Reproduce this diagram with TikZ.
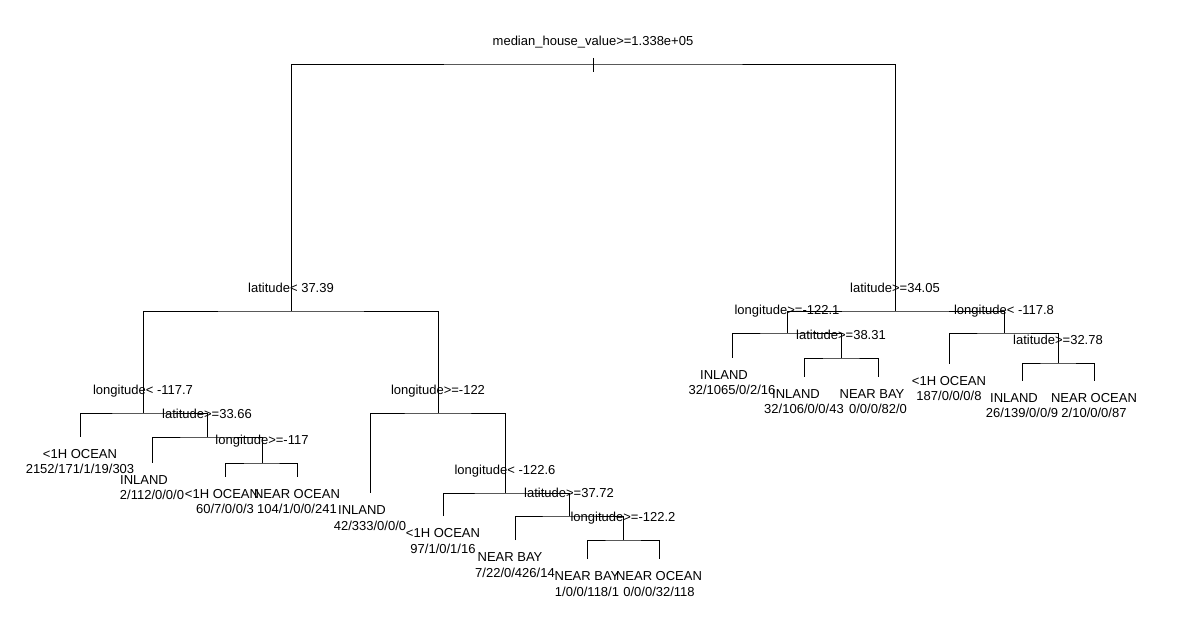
\documentclass[tikz,border=0pt]{standalone}
\usepackage{fontspec}
\setmainfont{Liberation Sans}
\begin{document}
\begin{tikzpicture}[x=1pt,y=-1pt,line width=0.9pt,
    every node/.style={inner sep=0pt,font=\fontsize{13}{15}\selectfont},
    split/.style={anchor=base,yshift=18.5pt},
    cls/.style={anchor=base,yshift=-21.5pt},
    cnt/.style={anchor=base,yshift=-37pt}]
    \useasboundingbox[fill=white] (0,0) rectangle (1192,617);

    % split points
    \coordinate (root) at (593,64);
    \coordinate (A) at (291,311);   \coordinate (B) at (895,311);
    \coordinate (C) at (143,413);   \coordinate (D) at (207,437);
    \coordinate (E) at (262,463);   \coordinate (F) at (438,413);
    \coordinate (G) at (505,493);   \coordinate (H) at (569,516);
    \coordinate (I) at (623,540);   \coordinate (J) at (787,333);
    \coordinate (K) at (841,358);   \coordinate (L) at (1004,333);
    \coordinate (M) at (1058,363);

    % leaves
    \coordinate (l1) at (80,437);    \coordinate (l2) at (152,463);
    \coordinate (l3) at (225,477);   \coordinate (l4) at (297,477);
    \coordinate (l5) at (370,493);   \coordinate (l6) at (443,516);
    \coordinate (l7) at (515,540);   \coordinate (l8) at (587,559);
    \coordinate (l9) at (659,559);   \coordinate (l10) at (732,358);
    \coordinate (l11) at (804,377);  \coordinate (l12) at (878,377);
    \coordinate (l13) at (949,364);  \coordinate (l14) at (1022,381);
    \coordinate (l15) at (1094,381);

    % branches
    \draw (A) |- (root) -| (B);
    \draw ([yshift=6pt]root) -- ([yshift=-8pt]root);
    \draw (C) |- (A) -| (F);
    \draw (l1) |- (C) -| (D);
    \draw (l2) |- (D) -| (E);
    \draw (l3) |- (E) -| (l4);
    \draw (l5) |- (F) -| (G);
    \draw (l6) |- (G) -| (H);
    \draw (l7) |- (H) -| (I);
    \draw (l8) |- (I) -| (l9);
    \draw (J) |- (B) -| (L);
    \draw (l10) |- (J) -| (K);
    \draw (l11) |- (K) -| (l12);
    \draw (l13) |- (L) -| (M);
    \draw (l14) |- (M) -| (l15);

    % split labels
    \node[split] (troot) at (root) {median\_house\_value>=1.338e+05};
    \node[split] (tA) at (A) {latitude< 37.39};
    \node[split] (tB) at (B) {latitude>=34.05};
    \node[split] (tC) at (C) {longitude< -117.7};
    \node[split] (tD) at (D) {latitude>=33.66};
    \node[split] (tE) at (E) {longitude>=-117};
    \node[split] (tF) at (F) {longitude>=-122};
    \node[split] (tG) at (G) {longitude< -122.6};
    \node[split] (tH) at (H) {latitude>=37.72};
    \node[split] (tI) at (I) {longitude>=-122.2};
    \node[split] (tJ) at (J) {longitude>=-122.1};
    \node[split] (tK) at (K) {latitude>=38.31};
    \node[split] (tL) at (L) {longitude< -117.8};
    \node[split] (tM) at (M) {latitude>=32.78};

    % leaf labels
    \node[cls] (k1) at (l1) {<1H OCEAN};            \node[cnt] (n1) at (l1) {2152/171/1/19/303};
    \node[cls,xshift=-8pt] (k2) at (l2) {INLAND};   \node[cnt] (n2) at (l2) {2/112/0/0/0};
    \node[cls,xshift=-3pt] (k3) at (l3) {<1H OCEAN};\node[cnt] (n3) at (l3) {60/7/0/0/3};
    \node[cls] (k4) at (l4) {NEAR OCEAN};           \node[cnt] (n4) at (l4) {104/1/0/0/241};
    \node[cls,xshift=-8pt] (k5) at (l5) {INLAND};   \node[cnt] (n5) at (l5) {42/333/0/0/0};
    \node[cls] (k6) at (l6) {<1H OCEAN};            \node[cnt] (n6) at (l6) {97/1/0/1/16};
    \node[cls,xshift=-5pt] (k7) at (l7) {NEAR BAY}; \node[cnt] (n7) at (l7) {7/22/0/426/14};
    \node[cls] (k8) at (l8) {NEAR BAY};             \node[cnt] (n8) at (l8) {1/0/0/118/1};
    \node[cls] (k9) at (l9) {NEAR OCEAN};           \node[cnt] (n9) at (l9) {0/0/0/32/118};
    \node[cls,xshift=-8pt] (k10) at (l10) {INLAND}; \node[cnt] (n10) at (l10) {32/1065/0/2/16};
    \node[cls,xshift=-8pt] (k11) at (l11) {INLAND}; \node[cnt] (n11) at (l11) {32/106/0/0/43};
    \node[cls,xshift=-6pt] (k12) at (l12) {NEAR BAY};\node[cnt] (n12) at (l12) {0/0/0/82/0};
    \node[cls] (k13) at (l13) {<1H OCEAN};          \node[cnt] (n13) at (l13) {187/0/0/0/8};
    \node[cls,xshift=-8pt] (k14) at (l14) {INLAND}; \node[cnt] (n14) at (l14) {26/139/0/0/9};
    \node[cls] (k15) at (l15) {NEAR OCEAN};         \node[cnt] (n15) at (l15) {2/10/0/0/87};
\end{tikzpicture}
\end{document}
